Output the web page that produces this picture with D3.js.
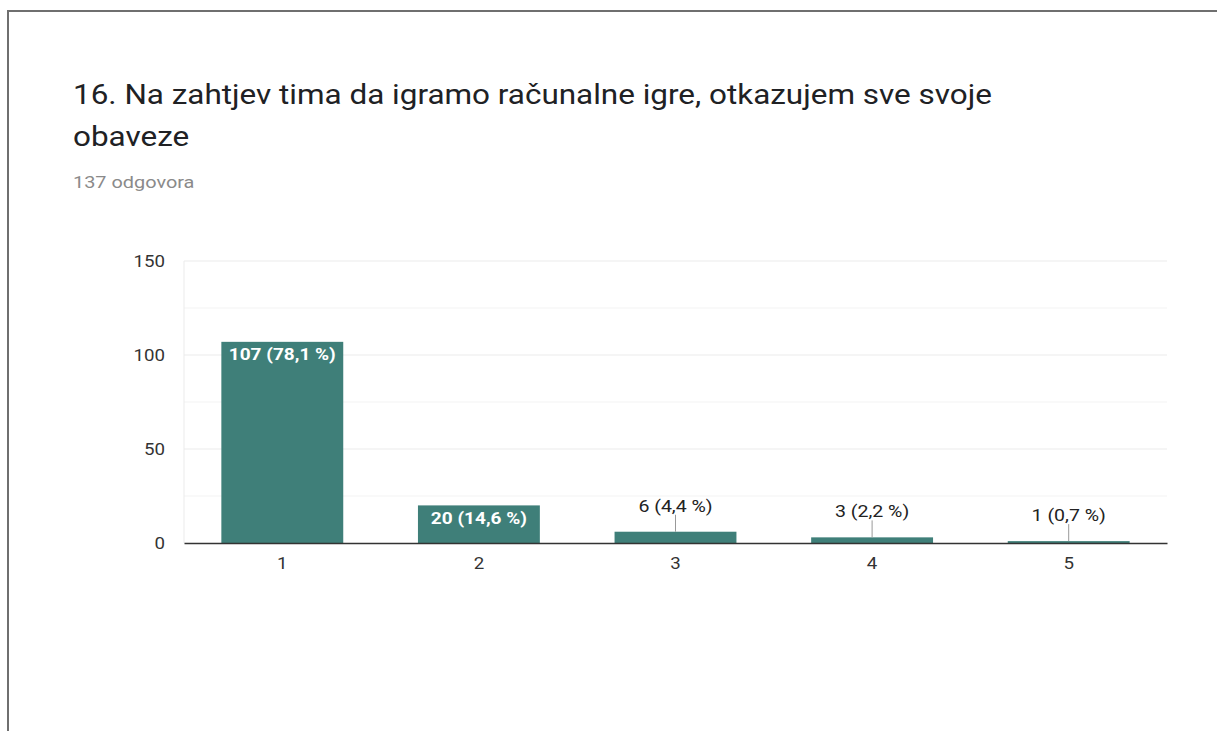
<!DOCTYPE html>
<html>
<head>
<meta charset="utf-8">
<script src="https://cdn.jsdelivr.net/npm/d3@7"></script>
<style>
  body { margin: 0; background: #fff; font-family: Roboto, Arial, sans-serif; }
  svg { display: block; }
</style>
</head>
<body>
<svg id="chart" width="1217" height="731"></svg>
<script>
const categories = ['1', '2', '3', '4', '5'];
const counts = [107, 20, 6, 3, 1];
const percents = ['78,1', '14,6', '4,4', '2,2', '0,7'];
const yTicks = [0, 50, 100, 150];
const minorTicks = [25, 75, 125];

const svg = d3.select('#chart');
const sx = 1.15; // text in the screenshot is a bit wider than normal

// put a text at (x,y), stretched a little horizontally
const addText = (x, y, str, size, opts = {}) => {
  return svg.append('text')
    .attr('transform', 'translate(' + x + ',' + y + ') scale(' + (opts.sx || sx) + ',1)')
    .attr('font-size', size)
    .attr('text-anchor', opts.anchor || 'start')
    .attr('font-weight', opts.weight || 'normal')
    .attr('fill', opts.fill || '#222')
    .text(str);
};

// frame
svg.append('path')
  .attr('d', 'M8,731 V11 H1217')
  .attr('fill', 'none')
  .attr('stroke', '#6f6f6f')
  .attr('stroke-width', 2);

addText(73, 104, '16. Na zahtjev tima da igramo računalne igre, otkazujem sve svoje', 27, {sx: 1.165, fill: '#202124'});
addText(73, 146, 'obaveze', 27, {sx: 1.165, fill: '#202124'});
addText(73, 188, '137 odgovora', 17, {sx: 1.17, fill: '#8a8a8a'});

const margin = {left: 184, top: 261, right: 1167, bottom: 543};

const x = d3.scaleBand().domain(categories).range([margin.left, margin.right]).paddingInner(0.38).paddingOuter(0.19);
const y = d3.scaleLinear().domain([0, 150]).range([margin.bottom, margin.top]);

// grid
svg.append('g').selectAll('line')
  .data(minorTicks)
  .enter().append('line')
  .attr('x1', margin.left).attr('x2', margin.right)
  .attr('y1', d => y(d)).attr('y2', d => y(d))
  .attr('stroke', '#f3f3f3');
svg.append('g').selectAll('line')
  .data(yTicks.slice(1))
  .enter().append('line')
  .attr('x1', margin.left).attr('x2', margin.right)
  .attr('y1', d => y(d)).attr('y2', d => y(d))
  .attr('stroke', '#ebebeb');
svg.append('line')
  .attr('x1', margin.left).attr('x2', margin.left)
  .attr('y1', margin.top).attr('y2', margin.bottom)
  .attr('stroke', '#ebebeb');

// y axis labels
const yAxis = d3.axisLeft(y).tickValues(yTicks).tickSize(0);
svg.append('g')
  .attr('transform', 'translate(' + margin.left + ',0)')
  .call(yAxis)
  .call(g => g.select('.domain').remove())
  .selectAll('text')
  .attr('x', 0)
  .attr('transform', 'translate(-19,0) scale(1.1,1)')
  .attr('font-size', 17).attr('font-family', 'Roboto, Arial, sans-serif').attr('fill', '#333');

// bars
svg.append('g').selectAll('rect')
  .data(counts)
  .enter().append('rect')
  .attr('x', (d, i) => x(categories[i]))
  .attr('width', x.bandwidth())
  .attr('y', d => y(d))
  .attr('height', d => y(0) - y(d))
  .attr('fill', '#3f7f79');

// x axis
const xAxis = d3.axisBottom(x).tickSize(0);
svg.append('g')
  .attr('transform', 'translate(0,' + margin.bottom + ')')
  .call(xAxis)
  .call(g => g.select('.domain').attr('stroke', '#333').attr('stroke-width', 1.3))
  .selectAll('text')
  .attr('y', 0)
  .attr('transform', 'translate(0,14) scale(1.1,1)')
  .attr('font-size', 17).attr('font-family', 'Roboto, Arial, sans-serif').attr('fill', '#333');

// labels
counts.forEach((d, i) => {
  const cx = x(categories[i]) + x.bandwidth() / 2;
  const label = d + ' (' + percents[i] + ' %)';
  if (y(0) - y(d) > 25) {
    addText(cx, y(d) + 18.5, label, 17, {anchor: 'middle', weight: 'bold', fill: '#fff', sx: 1.12});
  } else {
    svg.append('line')
      .attr('x1', cx).attr('x2', cx)
      .attr('y1', y(d) - 17).attr('y2', y(d))
      .attr('stroke', '#999');
    addText(cx, y(d) - 20, label, 17, {anchor: 'middle', sx: 1.15});
  }
});
</script>
</body>
</html>
